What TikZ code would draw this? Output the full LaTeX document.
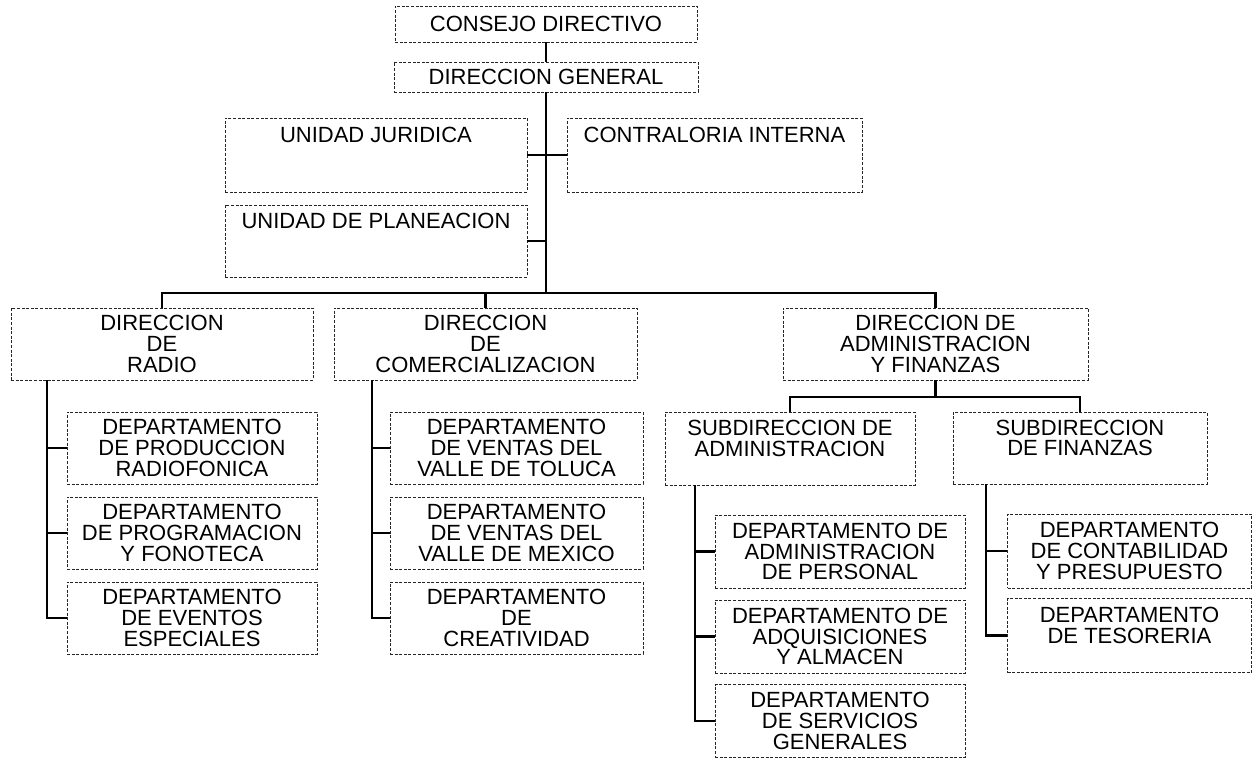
\documentclass[tikz,border=0pt]{standalone}
\usepackage{fontspec}
\setmainfont{Liberation Sans}
\usetikzlibrary{calc}

\begin{document}
\begin{tikzpicture}[x=0.5pt, y=-0.5pt]
    \tikzset{caja/.style={draw=black!85, dash pattern=on 1.5pt off 0.8pt, line width=0.35pt,
            align=center, inner sep=0pt, minimum width=#1, minimum height=36pt,
            font=\fontsize{11}{10.3}\selectfont}}
    \tikzset{linea/.style={line width=1.1pt}}
    \useasboundingbox (0,0) rectangle (1254,759);

    % direccion
    \node[caja=151pt, minimum height=18pt] (cd) at (546,24) {CONSEJO DIRECTIVO};
    \node[caja=152pt, minimum height=15pt] (dg) at (546,77) {DIRECCION GENERAL};
    \node[caja=151pt, minimum height=37pt] (uj) at (376,155) {UNIDAD JURIDICA\\~\\~};
    \node[caja=147.5pt, minimum height=37pt] (ci) at (714.5,155) {CONTRALORIA INTERNA\\~\\~};
    \node[caja=151pt] (up) at (376,241) {UNIDAD DE PLANEACION\\~\\~};

    \node[caja=151pt] (dr) at (162,344) {DIRECCION\\DE\\RADIO};
    \node[caja=151.5pt] (dc) at (485.5,344) {DIRECCION\\DE\\COMERCIALIZACION};
    \node[caja=152.5pt] (daf) at (935.5,344) {DIRECCION DE\\ADMINISTRACION\\Y FINANZAS};
    \node[caja=125pt, minimum height=36.5pt] (sa) at (790,448.5) {SUBDIRECCION DE\\ADMINISTRACION\\~};
    \node[caja=127pt] (sf) at (1080,448) {SUBDIRECCION\\DE FINANZAS\\~};

    % departamentos
    \foreach \n/\y/\t in {1/448/{DEPARTAMENTO\\DE PRODUCCION\\RADIOFONICA},
                          2/533/{DEPARTAMENTO\\DE PROGRAMACION\\Y FONOTECA},
                          3/618/{DEPARTAMENTO\\DE EVENTOS\\ESPECIALES}}
        \node[caja=125pt] (dr\n) at (192,\y) {\t};
    \foreach \n/\y/\t in {1/448/{DEPARTAMENTO\\DE VENTAS DEL\\VALLE DE TOLUCA},
                          2/533/{DEPARTAMENTO\\DE VENTAS DEL\\VALLE DE MEXICO},
                          3/618/{DEPARTAMENTO\\DE\\CREATIVIDAD}}
        \node[caja=126.5pt] (dc\n) at (516.5,\y) {\t};
    \foreach \n/\y/\t in {1/551.5/{DEPARTAMENTO DE\\ADMINISTRACION\\DE PERSONAL},
                          2/636.5/{DEPARTAMENTO DE\\ADQUISICIONES\\Y ALMACEN},
                          3/721/{DEPARTAMENTO\\DE SERVICIOS\\GENERALES}}
        \node[caja=125pt, minimum height=36.5pt] (sa\n) at (840,\y) {\t};
    \foreach \n/\y/\t in {1/551/{DEPARTAMENTO\\DE CONTABILIDAD\\Y PRESUPUESTO},
                          2/635.5/{DEPARTAMENTO\\DE TESORERIA\\~}}
        \node[caja=122pt, minimum height=37pt] (sf\n) at (1129.5,\y) {\t};

    % lineas de mando
    \coordinate (bus) at (546,293);
    \draw[linea] (cd) -- (dg);
    \draw[linea] (dg.south) -- (bus);
    \draw[linea] (uj.east) -- (ci.west);
    \draw[linea] (up.east) -- (up.east -| bus);
    \draw[linea] (dr.north) |- (bus) -| (daf.north);
    \draw[linea] (dc.north) -- (dc.north |- bus);

    \coordinate (dafb) at ($(daf.south)+(0,17)$);
    \draw[linea] (daf.south) -- (dafb);
    \draw[linea] (sa.north) |- (dafb) -| (sf.north);

    \coordinate (drt) at ([xshift=18pt]dr.south west);
    \coordinate (dct) at ([xshift=19pt]dc.south west);
    \coordinate (sat) at ([xshift=15pt]sa.south west);
    \coordinate (sft) at ([xshift=16.5pt]sf.south west);
    \draw[linea] (drt) |- (dr3.west);
    \draw[linea] (dct) |- (dc3.west);
    \draw[linea] (sat) |- (sa3.west);
    \draw[linea] (sft) |- (sf2.west);
    \foreach \c in {dr,dc,sa} {
        \foreach \i in {1,2}
            \draw[linea] (\c\i.west) -- (\c\i.west -| \c t);
    }
    \draw[linea] (sf1.west) -- (sf1.west -| sft);
\end{tikzpicture}
\end{document}
